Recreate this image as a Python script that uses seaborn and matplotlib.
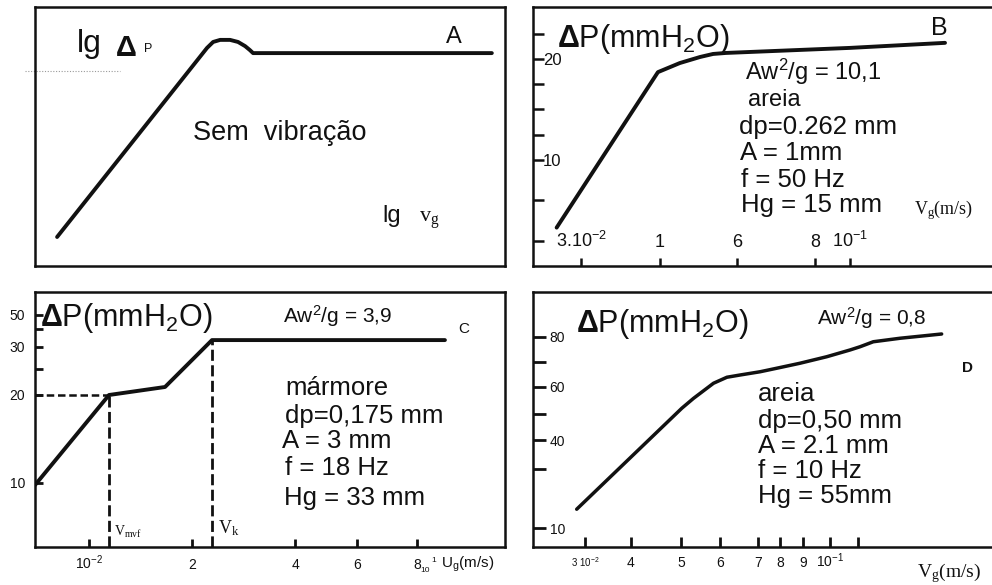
import numpy as np
import matplotlib
matplotlib.use("Agg")
import matplotlib.pyplot as plt
import seaborn as sns

# ---------------- data ----------------
# Panel A : schematic, lg dP versus lg v_g (arbitrary log units)
a_lg_vg = [0.047, 0.366, 0.379, 0.394, 0.415, 0.432, 0.447, 0.457, 0.464, 0.972]
a_lg_dp = [0.112, 0.842, 0.865, 0.873, 0.873, 0.865, 0.849, 0.834, 0.822, 0.822]

# Panel B : v_g (m/s) versus dP (mmH2O)
b_vg = [0.0269, 0.0397, 0.0444, 0.0494, 0.0529, 0.0566, 0.100, 0.153]
b_dp = [3.3, 18.7, 19.6, 20.2, 20.5, 20.6, 21.1, 21.6]
b_xtick_vals = [0.03, 0.04, 0.06, 0.08, 0.10]
b_xtick_labels = [r"$3.10^{-2}$", "1", "6", "8", r"$10^{-1}$"]
b_ytick_vals = [10, 20]
b_ytick_labels = ["10", "20"]
b_yminor = [2, 6, 12.5, 15, 17.5, 22.5]

# Panel C : U_g (m/s) versus dP (mmH2O)
c_ug = [0.0071, 0.01144, 0.01668, 0.02288, 0.0955]
c_dp = [9.8, 20.0, 21.4, 33.5, 33.5]
c_u_mvf, c_dp_mvf = 0.01144, 20.0
c_u_k, c_dp_k = 0.02288, 33.5
c_xtick_vals = [0.01, 0.02, 0.04, 0.06, 0.08]
c_xtick_labels = [r"$10^{-2}$", "2", "4", "6", "8"]
c_ytick_vals = [10, 20, 30, 50]
c_ytick_labels = ["10", "20", "30", "50"]
c_yminor = [25, 40]

# Panel D : v_g (m/s) versus dP (mmH2O)
d_vg = [0.0288, 0.0502, 0.0530, 0.0582, 0.0617, 0.0651, 0.0709, 0.0784,
        0.0886, 0.0987, 0.1103, 0.1159, 0.1237, 0.1411, 0.1731]
d_dp = [16.4, 52.0, 55.7, 61.5, 63.9, 64.8, 66.1, 67.5,
        69.5, 72.1, 74.8, 76.1, 78.1, 79.5, 81.1]
d_xtick_vals = [0.03, 0.04, 0.05, 0.06, 0.07, 0.08, 0.09, 0.10]
d_xtick_labels = [r"$3\ 10^{-2}$", "4", "5", "6", "7", "8", "9", r"$10^{-1}$"]
d_xminor = [0.115]
d_ytick_vals = [10, 40, 60, 80]
d_ytick_labels = ["10", "40", "60", "80"]
d_yminor = [30, 50, 70]

# ---------------- layout (pixel geometry of the scanned axes) ----------------
W, H = 992, 585
BOX_A = (35, 505, 7, 266)     # left, right, top, bottom
BOX_B = (533, 992, 7, 266)
BOX_C = (35, 505, 292, 547)
BOX_D = (533, 992, 292, 547)
B_X_PX = [581, 660, 737, 815, 850]
C_X_PX = [89, 192, 295, 357, 417]
C_Y_PX = [483, 395, 347, 315]
D_X_PX = [585, 631, 681, 720, 758, 780, 803, 830]
D_Y_PX = [528, 440, 387, 337]
INK = "#111111"
INFO = 18.5

sns.set_theme(style="white")
plt.rcParams["font.family"] = ["Liberation Sans", "DejaVu Sans"]
plt.rcParams["mathtext.fontset"] = "custom"
plt.rcParams["mathtext.rm"] = "Liberation Sans"
plt.rcParams["mathtext.it"] = "Liberation Sans:italic"
plt.rcParams["mathtext.bf"] = "Liberation Sans:bold"
plt.rcParams["mathtext.default"] = "regular"
plt.rcParams["text.color"] = INK
plt.rcParams["xtick.color"] = INK
plt.rcParams["ytick.color"] = INK


def anchored(vals, pos, log=True):
    """Non-uniform hand-drawn axis: piecewise interpolation between tick anchors."""
    v = np.log10(np.asarray(vals, float)) if log else np.asarray(vals, float)
    p = np.asarray(pos, float)
    k = (p[-1] - p[0]) / (v[-1] - v[0])

    def fwd(x):
        x = np.asarray(x, float)
        if log:
            with np.errstate(all="ignore"):
                t = np.log10(np.where(x > 0, x, 1e-300))
        else:
            t = x
        y = np.interp(t, v, p)
        y = np.where(t < v[0], p[0] + (t - v[0]) * k, y)
        y = np.where(t > v[-1], p[-1] + (t - v[-1]) * k, y)
        return y

    def inv(y):
        y = np.asarray(y, float)
        t = np.interp(y, p, v)
        t = np.where(y < p[0], v[0] + (y - p[0]) / k, t)
        t = np.where(y > p[-1], v[-1] + (y - p[-1]) / k, t)
        return 10 ** t if log else t

    return fwd, inv


fig = plt.figure(figsize=(W / 100, H / 100), dpi=100)
fig.patch.set_facecolor("white")


def add_box(box):
    l, r, t, b = box
    ax = fig.add_axes([l / W, (H - b) / H, (r - l) / W, (b - t) / H])
    ax.set_facecolor("white")
    for s in ax.spines.values():
        s.set_linewidth(1.8)
        s.set_color(INK)
    ax.grid(False)
    return ax


def put(ax, box, px, py, s, **kw):
    l, r, t, b = box
    ax.text((px - l) / (r - l), (b - py) / (b - t), s, transform=ax.transAxes,
            color=INK, **kw)


def curve(ax, x, y, lw=2.8):
    sns.lineplot(x=x, y=y, ax=ax, color=INK, linewidth=lw, sort=False,
                 estimator=None, legend=False)
    ax.set_xlabel("")
    ax.set_ylabel("")


# ---------------- Panel A ----------------
axA = add_box(BOX_A)
curve(axA, a_lg_vg, a_lg_dp)
axA.set_xlim(0, 1)
axA.set_ylim(0, 1)
axA.set_xticks([])
axA.set_yticks([])
axA.plot([-0.022, 0.18], [0.753, 0.753], ls=(0, (1, 1.5)), lw=0.8,
         color="#9a9a9a", clip_on=False)
put(axA, BOX_A, 77, 52, "lg", fontsize=23, va="baseline")
put(axA, BOX_A, 116, 56, "Δ", fontsize=21, va="baseline", weight="bold")
put(axA, BOX_A, 144, 52, "P", fontsize=9, va="baseline")
put(axA, BOX_A, 446, 43, "A", fontsize=17, va="baseline")
put(axA, BOX_A, 193, 140, "Sem  vibração", fontsize=19.5, va="baseline")
put(axA, BOX_A, 382, 222, "lg", fontsize=17, va="baseline")
put(axA, BOX_A, 419, 222, r"v$_{g}$", fontsize=16, va="baseline",
    family="Liberation Serif")

# ---------------- Panel B ----------------
axB = add_box(BOX_B)
axB.spines["right"].set_visible(False)
curve(axB, b_vg, b_dp, lw=2.8)
fB, iB = anchored(b_xtick_vals, B_X_PX)
axB.set_xscale("function", functions=(fB, iB))
axB.set_xlim(float(iB(BOX_B[0])), float(iB(BOX_B[1])))
axB.set_ylim(-0.5, 25.15)
axB.set_xticks(b_xtick_vals, b_xtick_labels)
axB.set_xticks([], minor=True)
axB.set_yticks(b_ytick_vals, b_ytick_labels)
axB.set_yticks(b_yminor, minor=True)
axB.tick_params(axis="x", which="both", direction="in", length=6, width=1.8,
                pad=-13.7, labelsize=13, bottom=True)
axB.tick_params(axis="y", which="both", direction="in", length=8, width=1.8,
                pad=-7, labelsize=12, left=True)
for t in axB.get_xticklabels():
    t.set_va("baseline")
for t in axB.get_yticklabels():
    t.set_ha("left")
put(axB, BOX_B, 557, 47, r"$\mathbf{\Delta}$P(mmH$_{2}$O)", fontsize=22, va="baseline")
put(axB, BOX_B, 931, 35, "B", fontsize=18, va="baseline")
put(axB, BOX_B, 745, 80, r"Aw$^{2}$/g = 10,1", fontsize=17, va="baseline")
put(axB, BOX_B, 748, 106, "areia", fontsize=17, va="baseline")
put(axB, BOX_B, 739, 134, "dp=0.262 mm", fontsize=INFO, va="baseline")
put(axB, BOX_B, 740, 160, "A = 1mm", fontsize=INFO, va="baseline")
put(axB, BOX_B, 741, 187, "f = 50 Hz", fontsize=INFO, va="baseline")
put(axB, BOX_B, 741, 212, "Hg = 15 mm", fontsize=INFO, va="baseline")
put(axB, BOX_B, 914, 214, r"V$_{g}$(m/s)", fontsize=13, va="baseline",
    family="Liberation Serif")

# ---------------- Panel C ----------------
axC = add_box(BOX_C)
curve(axC, c_ug, c_dp, lw=2.8)
fCx, iCx = anchored(c_xtick_vals, C_X_PX)
fCy, iCy = anchored(c_ytick_vals, [BOX_C[3] - p for p in C_Y_PX])
axC.set_xscale("function", functions=(fCx, iCx))
axC.set_yscale("function", functions=(fCy, iCy))
cx0, cx1 = float(iCx(BOX_C[0])), float(iCx(BOX_C[1]))
cy0, cy1 = float(iCy(0)), float(iCy(BOX_C[3] - BOX_C[2]))
axC.set_xlim(cx0, cx1)
axC.set_ylim(cy0, cy1)
dash = (0, (4, 1.6))
axC.plot([cx0, c_u_mvf], [c_dp_mvf, c_dp_mvf], color=INK, lw=1.8, ls=(0, (3, 1.5)))
axC.plot([c_u_mvf, c_u_mvf], [cy0, c_dp_mvf], color=INK, lw=2.0, ls=dash)
axC.plot([c_u_k, c_u_k], [cy0, c_dp_k], color=INK, lw=2.0, ls=dash)
axC.set_xticks(c_xtick_vals, c_xtick_labels)
axC.set_xticks([], minor=True)
axC.set_yticks(c_ytick_vals, c_ytick_labels)
axC.set_yticks(c_yminor, minor=True)
axC.tick_params(axis="x", which="both", direction="in", length=6, width=2,
                pad=16, labelsize=10, bottom=True)
axC.tick_params(axis="y", which="both", direction="in", length=6, width=2,
                pad=7, labelsize=10, left=True)
for t in axC.get_xticklabels():
    t.set_va("baseline")
put(axC, BOX_C, 40, 326, r"$\mathbf{\Delta}$P(mmH$_{2}$O)", fontsize=22, va="baseline")
put(axC, BOX_C, 283, 323, r"Aw$^{2}$/g = 3,9", fontsize=15, va="baseline")
put(axC, BOX_C, 458, 333, "C", fontsize=11, va="baseline")
put(axC, BOX_C, 285, 395, "mármore", fontsize=INFO, va="baseline")
put(axC, BOX_C, 285, 423, "dp=0,175 mm", fontsize=INFO, va="baseline")
put(axC, BOX_C, 282, 448, "A = 3 mm", fontsize=INFO, va="baseline")
put(axC, BOX_C, 285, 475, "f = 18 Hz", fontsize=INFO, va="baseline")
put(axC, BOX_C, 284, 505, "Hg = 33 mm", fontsize=INFO, va="baseline")
put(axC, BOX_C, 114, 536, r"V$_{mvf}$", fontsize=10, va="baseline",
    family="Liberation Serif")
put(axC, BOX_C, 218, 533, r"V$_{k}$", fontsize=13, va="baseline",
    family="Liberation Serif")
put(axC, BOX_C, 420, 572, "10", fontsize=6, va="baseline")
put(axC, BOX_C, 431, 562, "1", fontsize=6, va="baseline")
put(axC, BOX_C, 441, 568, r"U$_{g}$(m/s)", fontsize=11, va="baseline")

# ---------------- Panel D ----------------
axD = add_box(BOX_D)
axD.spines["right"].set_visible(False)
curve(axD, d_vg, d_dp, lw=2.5)
fDx, iDx = anchored(d_xtick_vals, D_X_PX)
fDy, iDy = anchored(d_ytick_vals, [BOX_D[3] - p for p in D_Y_PX], log=False)
axD.set_xscale("function", functions=(fDx, iDx))
axD.set_yscale("function", functions=(fDy, iDy))
axD.set_xlim(float(iDx(BOX_D[0])), float(iDx(BOX_D[1])))
axD.set_ylim(float(iDy(0)), float(iDy(BOX_D[3] - BOX_D[2])))
axD.set_xticks(d_xtick_vals, d_xtick_labels)
axD.set_xticks(d_xminor, minor=True)
axD.set_yticks(d_ytick_vals, d_ytick_labels)
axD.set_yticks(d_yminor, minor=True)
axD.tick_params(axis="x", which="both", direction="in", length=7, width=2,
                pad=14.4, labelsize=10, bottom=True)
axD.tick_params(axis="y", which="both", direction="in", length=9, width=2,
                pad=-12, labelsize=10, left=True)
for t in axD.get_xticklabels():
    t.set_va("baseline")
axD.get_xticklabels()[0].set_fontsize(7)
for t in axD.get_yticklabels():
    t.set_ha("left")
put(axD, BOX_D, 576, 332, r"$\mathbf{\Delta}$P(mmH$_{2}$O)", fontsize=22, va="baseline")
put(axD, BOX_D, 817, 325, r"Aw$^{2}$/g = 0,8", fontsize=15, va="baseline")
put(axD, BOX_D, 962, 372, "D", fontsize=11, va="baseline", weight="bold")
put(axD, BOX_D, 758, 401, "areia", fontsize=INFO, va="baseline")
put(axD, BOX_D, 758, 428, "dp=0,50 mm", fontsize=INFO, va="baseline")
put(axD, BOX_D, 758, 453, "A = 2.1 mm", fontsize=INFO, va="baseline")
put(axD, BOX_D, 758, 478, "f = 10 Hz", fontsize=INFO, va="baseline")
put(axD, BOX_D, 758, 503, "Hg = 55mm", fontsize=INFO, va="baseline")
put(axD, BOX_D, 917, 577, r"V$_{g}$(m/s)", fontsize=14, va="baseline",
    family="Liberation Serif")

fig.savefig("out.png", dpi=100, facecolor="white")
